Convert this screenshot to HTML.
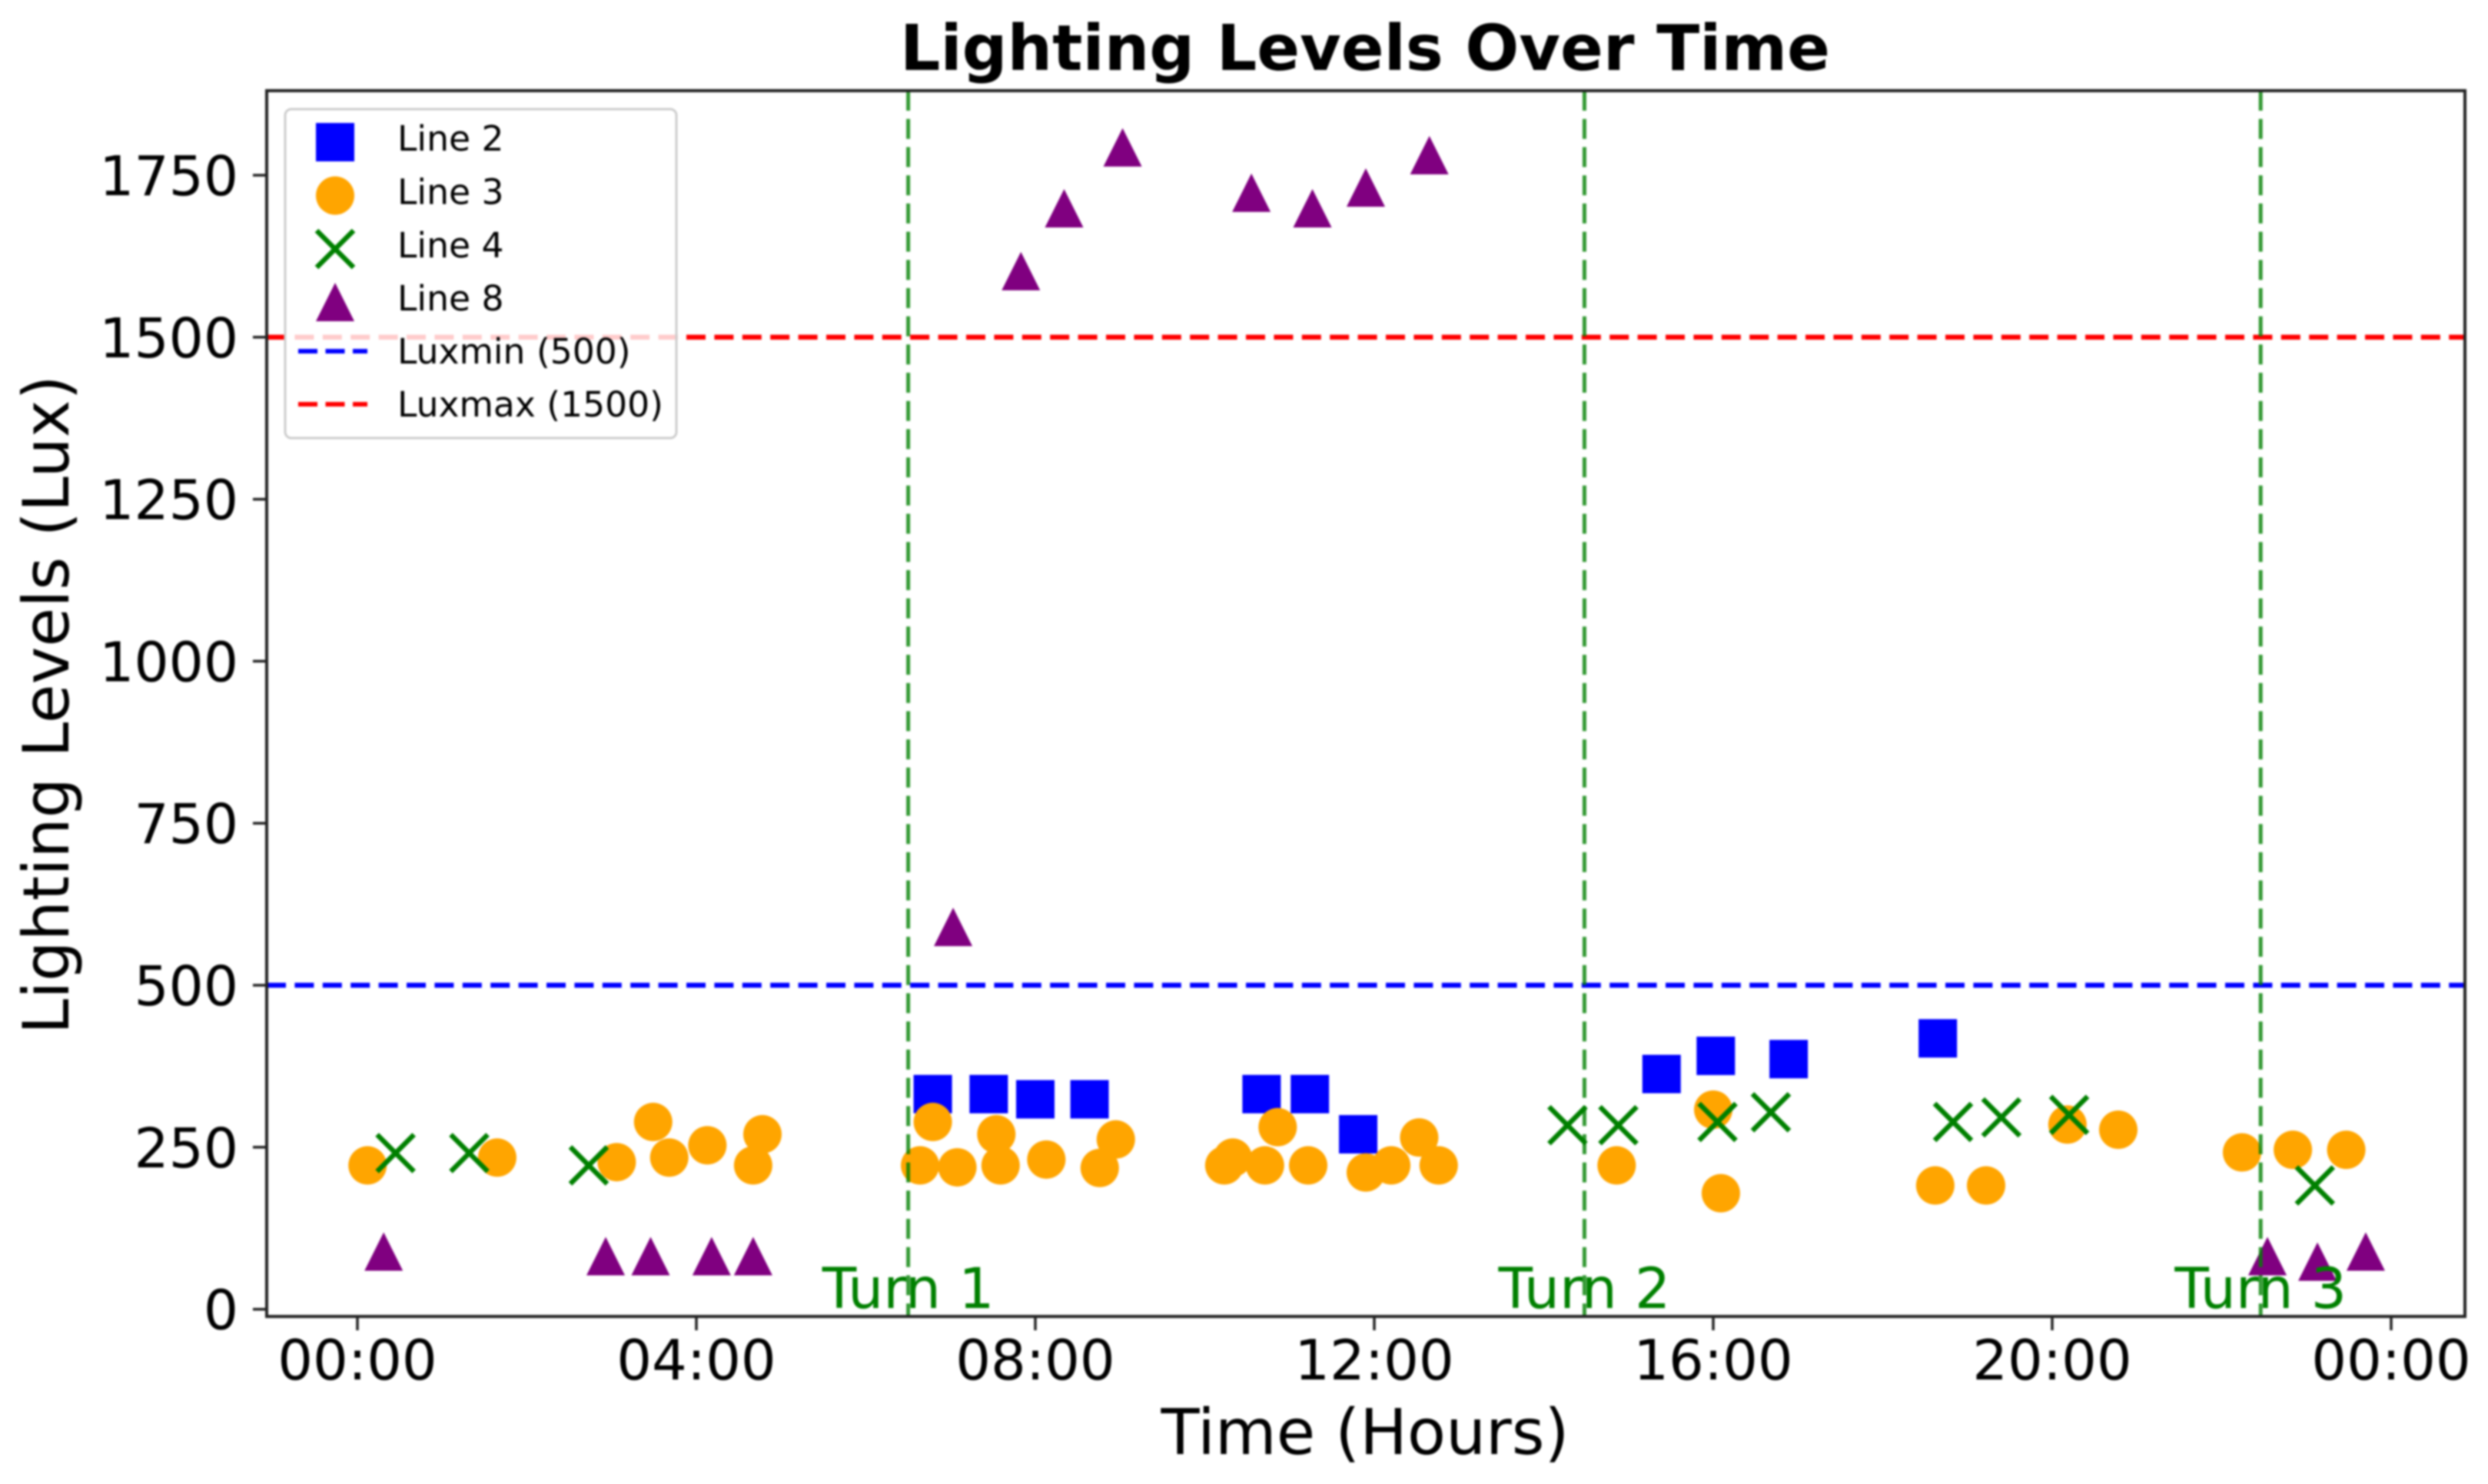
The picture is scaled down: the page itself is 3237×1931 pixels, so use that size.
<!DOCTYPE html>
<html lang="en">
<head>
<meta charset="utf-8">
<title>Lighting Levels Over Time</title>
<style>
html,body{margin:0;padding:0;background:#fff;}
body{width:3237px;height:1931px;overflow:hidden;}
svg{display:block;filter:blur(1.2px);}
text{font-family:"DejaVu Sans","Liberation Sans",sans-serif;fill:#000;}
</style>
</head>
<body>
<svg id="chart" xmlns="http://www.w3.org/2000/svg" width="3237" height="1931" viewBox="0 0 3237 1931">
  <rect x="0" y="0" width="3237" height="1931" fill="#fff"/>
  <g id="marks"></g>
  <g id="refLines"></g>
  <g id="turns"></g>
  <rect x="347" y="118" width="2860" height="1595" fill="none" stroke="#222" stroke-width="4"/>
  <g id="ticks"></g>
  <text x="1776" y="91" font-size="82.3" font-weight="700" text-anchor="middle">Lighting Levels Over Time</text>
  <text x="1776" y="1892" font-size="82" text-anchor="middle">Time (Hours)</text>
  <text transform="translate(89 917) rotate(-90)" font-size="82.6" text-anchor="middle">Lighting Levels (Lux)</text>
  <g>
    <rect x="371" y="142" width="509" height="428" rx="8" ry="8" fill="#fff" fill-opacity="0.8" stroke="#ccc" stroke-width="3"/>
    <rect x="411" y="160" width="50" height="50" fill="#0000ff"/>
    <circle cx="436" cy="254.5" r="25" fill="#ffa500"/>
    <path d="M412 300L460 348M412 348L460 300" stroke="#008000" stroke-width="6.5" fill="none"/>
    <polygon points="436,368 461,418 411,418" fill="#800080"/>
    <line x1="388" x2="478" y1="457" y2="457" stroke="#0000ff" stroke-width="6" stroke-dasharray="25 10.5"/>
    <line x1="388" x2="478" y1="526" y2="526" stroke="#ff0000" stroke-width="6" stroke-dasharray="25 10.5"/>
    <text x="517" y="196" font-size="45.6">Line 2</text>
    <text x="517" y="265.5" font-size="45.6">Line 3</text>
    <text x="517" y="335" font-size="45.6">Line 4</text>
    <text x="517" y="404" font-size="45.6">Line 8</text>
    <text x="517" y="473" font-size="45.6">Luxmin (500)</text>
    <text x="517" y="542" font-size="45.6">Luxmax (1500)</text>
  </g>
</svg>
<script>
const line2Hours = [6.79, 7.45, 8.0, 8.64, 10.67, 11.24, 11.81, 15.39, 16.03, 16.89, 18.65];
const line2Lux = [332, 332, 324, 324, 332, 332, 270, 363, 391, 386, 418];

const line3Hours = [0.12, 1.65, 3.06, 3.49, 3.68, 4.13, 4.78, 4.67, 6.64, 6.79, 7.08, 7.54, 7.59, 8.13, 8.76, 8.95, 10.23, 10.33, 10.71, 10.86, 11.22, 11.9, 12.2, 12.53, 12.76, 14.86, 16.0, 16.09, 18.62, 19.22, 20.18, 20.78, 22.24, 22.84, 23.47];
const line3Lux = [222, 234, 227, 289, 234, 253, 270, 222, 222, 289, 219, 270, 222, 231, 218, 262, 222, 234, 222, 281, 222, 211, 222, 265, 222, 222, 308, 179, 191, 191, 285, 277, 242, 246, 246];

const line4Hours = [0.45, 1.32, 2.73, 14.28, 14.88, 16.05, 16.68, 18.83, 19.4, 20.2, 23.1];
const line4Lux = [241, 241, 222, 284, 284, 289, 304, 289, 296, 300, 191];

const line8Hours = [0.31, 2.93, 3.46, 4.18, 4.67, 7.03, 7.83, 8.34, 9.03, 10.55, 11.27, 11.9, 12.65, 22.54, 23.13, 23.7];
const line8Lux = [89, 82, 82, 82, 82, 590, 1602, 1699, 1793, 1723, 1699, 1731, 1781, 82, 73.5, 89];

const luxminValue = [500];
const luxmaxValue = [1500];
const turnHours = [6.5, 14.48, 22.46];
const turnLabels = ['Turn 1', 'Turn 2', 'Turn 3'];
const xTickHours = [0, 4, 8, 12, 16, 20, 24];
const xTickLabels = ['00:00', '04:00', '08:00', '12:00', '16:00', '20:00', '00:00'];
const yTickValues = [0, 250, 500, 750, 1000, 1250, 1500, 1750];

const SVG_NS = 'http://www.w3.org/2000/svg';
const PLOT_LEFT = 347, PLOT_RIGHT = 3207, PLOT_TOP = 118, PLOT_BOTTOM = 1713;
function xAxis(h) { return 465 + 110.25 * h; }
function yAxis(v) { return 1703.6 - 0.8432 * v; }
function make(tag, attrs) {
  const el = document.createElementNS(SVG_NS, tag);
  for (const k in attrs) el.setAttribute(k, attrs[k]);
  return el;
}
const marks = document.getElementById('marks');
const refLines = document.getElementById('refLines');
const turns = document.getElementById('turns');
const ticks = document.getElementById('ticks');

line2Hours.forEach(function (h, i) {
  const el = make('rect', { x: xAxis(h) - 25, y: yAxis(line2Lux[i]) - 25, width: 50, height: 50, fill: '#0000ff' });
  
  
  marks.appendChild(el);
});
line3Hours.forEach(function (h, i) {
  const el = make('circle', { cx: xAxis(h), cy: yAxis(line3Lux[i]), r: 25, fill: '#ffa500' });
  
  
  marks.appendChild(el);
});
line4Hours.forEach(function (h, i) {
  const x = xAxis(h), y = yAxis(line4Lux[i]), s = 24;
  const d = 'M' + (x - s) + ' ' + (y - s) + 'L' + (x + s) + ' ' + (y + s) + 'M' + (x - s) + ' ' + (y + s) + 'L' + (x + s) + ' ' + (y - s);
  const el = make('path', { d: d, stroke: '#008000', 'stroke-width': 6.5, fill: 'none' });
  
  
  marks.appendChild(el);
});
line8Hours.forEach(function (h, i) {
  const x = xAxis(h), y = yAxis(line8Lux[i]), s = 25;
  const pts = x + ',' + (y - s) + ' ' + (x + s) + ',' + (y + s) + ' ' + (x - s) + ',' + (y + s);
  const el = make('polygon', { points: pts, fill: '#800080' });
  
  
  marks.appendChild(el);
});

luxminValue.forEach(function (v) {
  const el = make('line', { x1: PLOT_LEFT, x2: PLOT_RIGHT, y1: yAxis(v), y2: yAxis(v), stroke: '#0000ff', 'stroke-width': 6.5, 'stroke-dasharray': '25 11.4' });
  
  
  refLines.appendChild(el);
});
luxmaxValue.forEach(function (v) {
  const el = make('line', { x1: PLOT_LEFT, x2: PLOT_RIGHT, y1: yAxis(v), y2: yAxis(v), stroke: '#ff0000', 'stroke-width': 6.5, 'stroke-dasharray': '25 11.4' });
  
  
  refLines.appendChild(el);
});

turnHours.forEach(function (h, i) {
  const x = xAxis(h);
  const ln = make('line', { x1: x, x2: x, y1: PLOT_TOP, y2: PLOT_BOTTOM, stroke: '#008000', 'stroke-opacity': 0.8, 'stroke-width': 5, 'stroke-dasharray': '26 10.7' });
  
  
  turns.appendChild(ln);
  const t = make('text', { x: x, y: 1702, 'font-size': 72.8, 'text-anchor': 'middle' });
  t.style.fill = '#008000';
  t.textContent = turnLabels[i];
  
  
  turns.appendChild(t);
});

xTickHours.forEach(function (h, i) {
  const x = xAxis(h);
  const m = make('line', { x1: x, x2: x, y1: PLOT_BOTTOM, y2: PLOT_BOTTOM + 18, stroke: '#222', 'stroke-width': 3.5 });
  
  
  ticks.appendChild(m);
  const t = make('text', { x: x, y: 1795, 'font-size': 72, 'text-anchor': 'middle' });
  t.textContent = xTickLabels[i];
  
  
  ticks.appendChild(t);
});
yTickValues.forEach(function (v) {
  const y = yAxis(v);
  const m = make('line', { x1: PLOT_LEFT - 18, x2: PLOT_LEFT, y1: y, y2: y, stroke: '#222', 'stroke-width': 3.5 });
  
  
  ticks.appendChild(m);
  const t = make('text', { x: 310, y: y + 26, 'font-size': 71, 'text-anchor': 'end' });
  t.textContent = String(v);
  
  
  ticks.appendChild(t);
});
</script>
</body>
</html>
